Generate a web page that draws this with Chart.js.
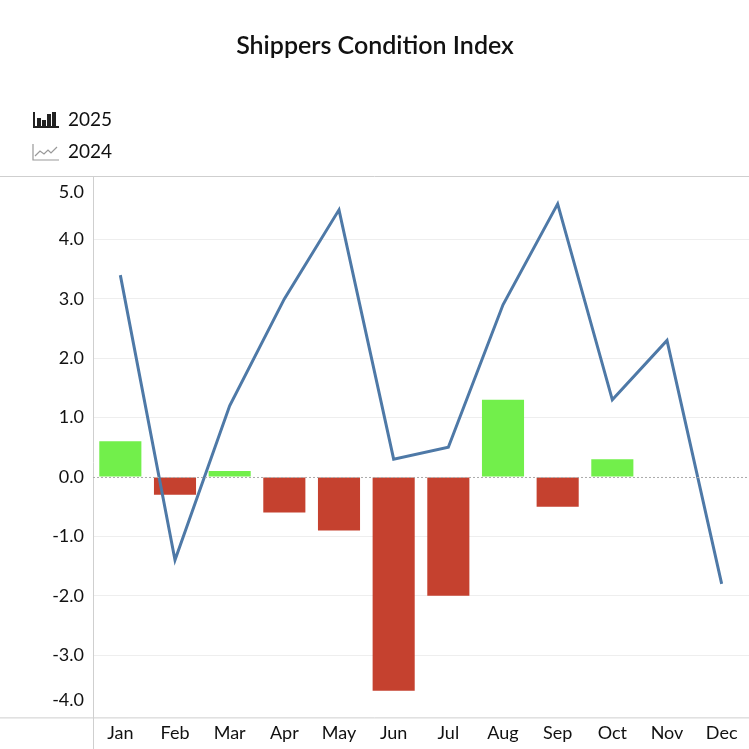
<!DOCTYPE html>
<html><head><meta charset="utf-8">
<script src="https://cdn.jsdelivr.net/npm/chart.js@4"></script>
<style>html,body{margin:0;padding:0;background:#fff}#c{display:block}</style>
</head><body>
<div style="width:749px;height:749px"><canvas id="c" width="749" height="749"></canvas></div>
<script>
const months = ["Jan","Feb","Mar","Apr","May","Jun","Jul","Aug","Sep","Oct","Nov","Dec"];
const values2025 = [0.6,-0.3,0.1,-0.6,-0.9,-3.6,-2.0,1.3,-0.5,0.3,null,null];
const values2024 = [3.4,-1.4,1.2,3.0,4.5,0.3,0.5,2.9,4.6,1.3,2.3,-1.8];
const tickValues = [-3.76,-3,-2,-1,0,1,2,3,4,4.8];
const tickLabels = ["-4.0","-3.0","-2.0","-1.0","0.0","1.0","2.0","3.0","4.0","5.0"];

const barColors = values2025.map(v => v >= 0 ? "#72ef4b" : "#c5412f");
const FONT = "Lato, 'Open Sans', sans-serif";

const decor = {
  id: "decor",
  afterDraw(chart) {
    const c = chart.ctx, a = chart.chartArea;
    c.save();
    c.fillStyle = "#111";
    c.font = "600 25px " + FONT;
    c.textAlign = "center";
    c.fillText("Shippers Condition Index", 375, 54);
    // legend
    c.textAlign = "left";
    c.font = "19px " + FONT;
    c.fillText("2025", 68, 126);
    c.fillText("2024", 68, 158);
    c.fillStyle = "#222";
    c.fillRect(33, 112, 2, 16);
    c.fillRect(33, 126, 26, 2);
    [[37,8],[42,6],[47,12],[52,14]].forEach(([x,h]) => c.fillRect(x, 126 - h, 4, h));
    c.strokeStyle = "#999"; c.lineWidth = 1.2;
    c.beginPath(); c.moveTo(33,144); c.lineTo(33,160); c.lineTo(59,160); c.stroke();
    c.beginPath(); c.moveTo(35,156); c.lineTo(40,151); c.lineTo(44,154); c.lineTo(48,150); c.lineTo(51,153); c.lineTo(57,147); c.stroke();
    // frame lines
    c.strokeStyle = "#cfcfcf"; c.lineWidth = 1;
    c.beginPath(); c.moveTo(0, a.top + 0.5); c.lineTo(749, a.top + 0.5); c.stroke();
    c.beginPath(); c.moveTo(0, a.bottom + 0.5); c.lineTo(749, a.bottom + 0.5); c.stroke();
    c.beginPath(); c.moveTo(a.left + 0.5, a.top); c.lineTo(a.left + 0.5, 749); c.stroke();
    const y0 = chart.scales.y.getPixelForValue(0);
    c.strokeStyle = "#aaa"; c.setLineDash([2,2]);
    c.beginPath(); c.moveTo(a.left, y0 + 0.5); c.lineTo(a.right, y0 + 0.5); c.stroke();
    c.restore();
  }
};

new Chart(document.getElementById("c"), {
  data: {
    labels: months,
    datasets: [
      { type: "line", label: "2024", data: values2024, borderColor: "#4e79a7", borderWidth: 3,
        pointRadius: 0, tension: 0, order: 0 },
      { type: "bar", label: "2025", data: values2025, backgroundColor: barColors,
        categoryPercentage: 0.77, barPercentage: 1, order: 1 }
    ]
  },
  options: {
    responsive: false, animation: false,
    layout: { padding: { top: 176, left: 0, right: 0, bottom: 0 } },
    plugins: { legend: { display: false }, title: { display: false }, tooltip: { enabled: false } },
    scales: {
      x: {
        grid: { display: false, drawTicks: false }, border: { display: false },
        ticks: { color: "#111", font: { family: FONT, size: 18 }, padding: 5 }
      },
      y: {
        min: -4.05, max: 5.07,
        afterBuildTicks: axis => { axis.ticks = tickValues.map(v => ({ value: v })); },
        grid: { color: ctx => ctx.tick && (ctx.tick.value === 4.8 || ctx.tick.value === -3.76 || ctx.tick.value === 0) ? "transparent" : "#eeeeee", drawTicks: false },
        border: { display: false },
        afterFit: axis => { axis.width = 93; },
        ticks: { color: "#111", font: { family: FONT, size: 18 }, padding: 9,
          callback: (v, i) => tickLabels[i] }
      }
    }
  },
  plugins: [decor]
});
</script>
</body></html>
